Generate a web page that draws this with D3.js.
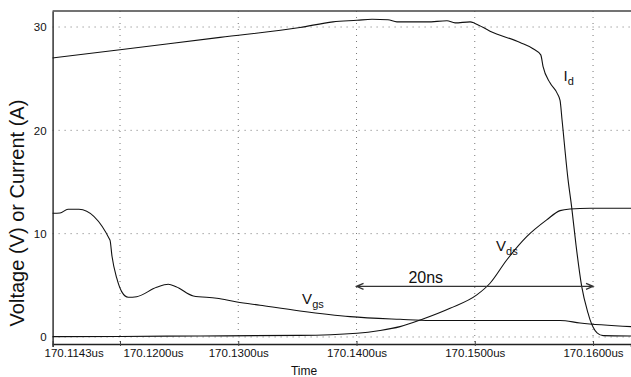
<!DOCTYPE html>
<html>
<head>
<meta charset="utf-8">
<script src="https://cdn.jsdelivr.net/npm/d3@7"></script>
<style>
  body { margin: 0; background: #fff; }
  svg { display: block; font-family: "Liberation Sans", Arial, sans-serif; }
</style>
</head>
<body>
<div id="vis"></div>
<script>
// time in ns after 170.1000us
const idTime = [14.3, 20, 28.46, 35.22, 38.01, 40.04, 41.31, 42.66, 43.42, 45.96, 47.65, 48.33, 49.6, 50.02, 51.29, 53.83, 54.93, 55.58, 55.77, 56.36, 56.96, 57.21, 57.38, 57.89, 58.2, 58.56, 59.04, 59.58, 59.75, 60.0, 60.34, 60.85, 63.21];
const idValues = [27.0, 27.8, 29.0, 29.95, 30.5, 30.65, 30.75, 30.7, 30.5, 30.5, 30.6, 30.4, 30.5, 30.35, 29.6, 28.5, 27.9, 27.3, 26.2, 24.6, 23.6, 22.9, 21.0, 15.2, 12.5, 8.9, 4.9, 2.3, 1.65, 0.97, 0.39, 0.13, 0.1];

const vgsTime = [14.3, 14.93, 15.6, 16.53, 19.15, 19.32, 19.72, 20.14, 20.7, 21.41, 23.1, 24.08, 24.74, 26.2, 28.18, 29.89, 31.84, 35.22, 39.45, 43.68, 46.22, 52.14, 57.21, 58.9, 63.21];
const vgsValues = [11.97, 12.0, 12.36, 12.36, 9.39, 7.84, 5.71, 4.39, 3.84, 3.9, 4.81, 5.1, 4.87, 3.97, 3.75, 3.39, 3.07, 2.52, 1.97, 1.71, 1.6, 1.6, 1.6, 1.36, 1.0];

const vdsTime = [14.3, 20, 26.77, 35.22, 40.04, 41.99, 43.68, 45.62, 47.91, 50.17, 51.29, 52.7, 54.39, 56.08, 57.21, 58.05, 59.75, 63.21];
const vdsValues = [0.03, 0.05, 0.1, 0.15, 0.36, 0.63, 1.0, 1.74, 2.78, 4.07, 5.2, 7.45, 9.71, 11.33, 12.23, 12.39, 12.46, 12.46];

const xTicks = [14.3, 20, 30, 40, 50, 60];
const xTickLabels = ["170.1143us", "170.1200us", "170.1300us", "170.1400us", "170.1500us", "170.1600us"];
const yTicks = [0, 10, 20, 30];

// 20ns marker: from / to (ns) at a given level (V)
const spanFrom = 40, spanTo = 60, spanLevel = 4.9;

const margin = { top: 11, right: 0, bottom: 33, left: 52.6 };
const width = 631 - margin.left - margin.right;
const height = 377 - margin.top - margin.bottom;

const svg = d3.select("#vis")
  .append("svg")
  .attr("width", 631)
  .attr("height", 377);

const g = svg.append("g")
  .attr("transform", `translate(${margin.left},${margin.top})`);

const x = d3.scaleLinear()
  .domain([14.3, 63.21])
  .range([0, width]);

const y = d3.scaleLinear()
  .domain([-0.68, 31.55])
  .range([height, 0]);

// dotted grid
g.append("g")
  .selectAll("line")
  .data(xTicks.slice(1))
  .join("line")
  .attr("x1", d => x(d)).attr("x2", d => x(d))
  .attr("y1", 0).attr("y2", height)
  .attr("stroke", "#777")
  .attr("stroke-dasharray", "1,5");

g.append("g")
  .selectAll("line")
  .data(yTicks)
  .join("line")
  .attr("x1", 0).attr("x2", width)
  .attr("y1", d => y(d)).attr("y2", d => y(d))
  .attr("stroke", "#777")
  .attr("stroke-dasharray", "1,5");

// x axis
const xAxis = g.append("g")
  .attr("transform", `translate(0,${height})`)
  .call(d3.axisBottom(x).tickValues(xTicks).tickSize(3).tickFormat((d, i) => xTickLabels[i]));

xAxis.select(".domain").attr("stroke", "#222").attr("stroke-width", 1.5);
xAxis.selectAll(".tick line").attr("stroke", "#444").attr("y1", -3).attr("y2", 2);
xAxis.selectAll(".tick text")
  .attr("font-size", 11.5)
  .attr("font-family", "Liberation Sans, Arial, sans-serif")
  .attr("fill", "#111")
  .attr("y", 5)
  // first two labels are pushed right in the original plot
  .attr("text-anchor", (d, i) => i < 2 ? "start" : "middle")
  .attr("dx", (d, i) => i === 0 ? -8.6 : i === 1 ? 3 : 0);

// y axis
const yAxis = g.append("g")
  .call(d3.axisLeft(y).tickValues(yTicks).tickSize(0).tickPadding(6));

yAxis.select(".domain").attr("stroke", "#333").attr("stroke-width", 1.5);
yAxis.selectAll(".tick text")
  .attr("font-size", 11.5)
  .attr("font-family", "Liberation Sans, Arial, sans-serif")
  .attr("fill", "#111");

// top border
g.append("line")
  .attr("x1", 0).attr("x2", width)
  .attr("y1", 0).attr("y2", 0)
  .attr("stroke", "#444")
  .attr("stroke-width", 1.5);

// traces
const line = d3.line()
  .x(d => x(d[0]))
  .y(d => y(d[1]))
  .curve(d3.curveMonotoneX);

const traces = [
  d3.zip(idTime, idValues),
  d3.zip(vgsTime, vgsValues),
  d3.zip(vdsTime, vdsValues)
];

g.selectAll(".trace")
  .data(traces)
  .join("path")
  .attr("class", "trace")
  .attr("d", line)
  .attr("fill", "none")
  .attr("stroke", "#111")
  .attr("stroke-width", 1.1);

// 20ns span arrow
const ay = y(spanLevel);
const ax1 = x(spanFrom), ax2 = x(spanTo);
g.append("path")
  .attr("d", `M${ax1},${ay}H${ax2}M${ax1 + 7},${ay - 3}L${ax1},${ay}L${ax1 + 7},${ay + 3}M${ax2 - 7},${ay - 3}L${ax2},${ay}L${ax2 - 7},${ay + 3}`)
  .attr("fill", "none")
  .attr("stroke", "#333")
  .attr("stroke-width", 1.3);

g.append("text")
  .attr("x", (ax1 + ax2) / 2 - 49)
  .attr("y", ay - 3)
  .attr("text-anchor", "middle")
  .attr("font-size", 16)
  .attr("fill", "#111")
  .text("20ns");

// trace labels with subscripts
function label(tx, ty, main, sub) {
  const t = g.append("text")
    .attr("x", tx).attr("y", ty)
    .attr("font-size", 15)
    .attr("fill", "#111");
  t.append("tspan").text(main);
  t.append("tspan").attr("font-size", 11).attr("dy", 4).text(sub);
}
label(x(57.5), y(24.8), "I", "d");
label(x(51.8), y(8.3), "V", "ds");
label(x(35.4), y(3.2), "V", "gs");

// axis titles
svg.append("text")
  .attr("transform", "translate(24,213) rotate(-90)")
  .attr("text-anchor", "middle")
  .attr("font-size", 20)
  .attr("fill", "#111")
  .text("Voltage (V) or Current (A)");

svg.append("text")
  .attr("x", 304)
  .attr("y", 375)
  .attr("text-anchor", "middle")
  .attr("font-size", 12)
  .attr("fill", "#111")
  .text("Time");
</script>
</body>
</html>
